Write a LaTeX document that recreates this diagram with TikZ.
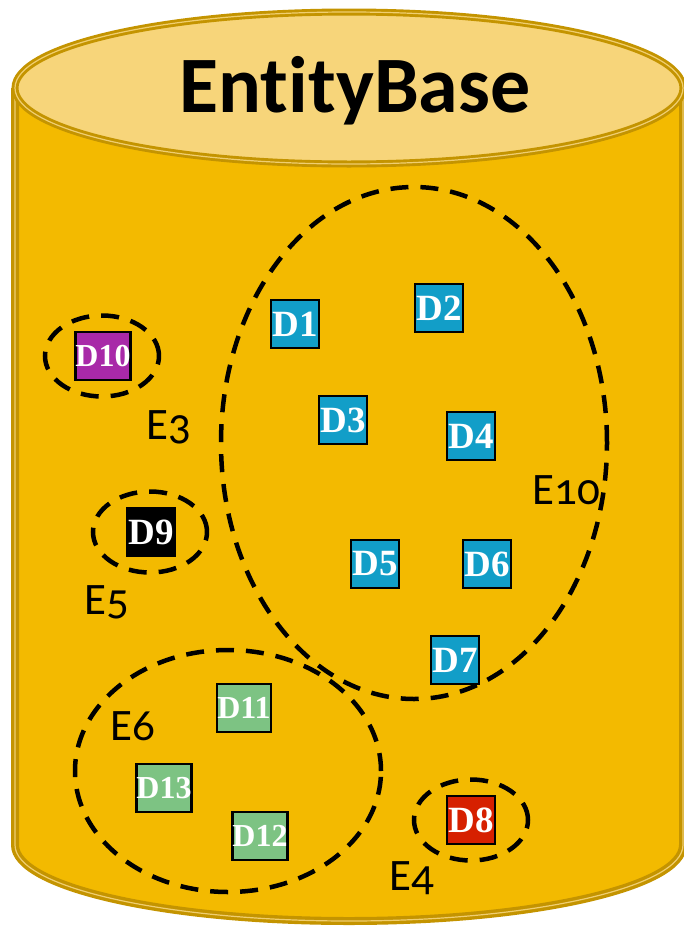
\documentclass[tikz,border=0pt]{standalone}
\usepackage{fontspec}
\usetikzlibrary{shapes.geometric}
\usetikzlibrary{positioning}
\newfontfamily\titlefont[Ligatures=NoCommon]{Carlito}
\newfontfamily\entfont[Numbers=OldStyle]{Carlito}
\newfontfamily\docfont{Liberation Serif}
\definecolor{rimgold}{RGB}{196,148,0}
\definecolor{rimlight}{RGB}{240,206,112}
\definecolor{bodygold}{RGB}{243,186,0}
\definecolor{topgold}{RGB}{247,213,122}
\definecolor{dblue}{RGB}{18,158,200}
\definecolor{dpurple}{RGB}{168,41,168}
\definecolor{dgreen}{RGB}{125,195,131}
\definecolor{dred}{RGB}{214,32,0}
\tikzstyle{doc} = [rectangle, minimum width=48pt, minimum height=48pt, inner sep=0pt, draw=black, line width=2.2pt, text=white, font=\docfont\bfseries\fontsize{37}{37}\selectfont]
\tikzstyle{docsmall} = [doc, font=\docfont\bfseries\fontsize{32}{32}\selectfont]
\tikzstyle{entity} = [ellipse, draw=black, line width=4.5pt, dash pattern=on 18pt off 12pt, inner sep=0pt]
\tikzstyle{elabel} = [inner sep=0pt, font=\entfont\fontsize{45}{45}\selectfont]
\begin{document}
\begin{tikzpicture}[x=1pt, y=-1pt]
        \useasboundingbox (0,0) rectangle (684,929);
        %cylinder
        \draw [rimgold, line width=8pt, fill=bodygold] (15,88) -- (15,845) arc [start angle=180, end angle=0, x radius=334, y radius=76] -- (683,88);
        \draw [rimlight, line width=1.2pt] (15,88) -- (15,845) arc [start angle=180, end angle=0, x radius=334, y radius=76] -- (683,88);
        \draw [rimgold, line width=7pt, fill=topgold] (349,88) ellipse [x radius=334, y radius=76];
        \draw [rimlight, line width=1.2pt] (349,88) ellipse [x radius=334, y radius=76];
        \node (title) [anchor=base, font=\titlefont\bfseries\fontsize{80}{80}\selectfont] at (355,112) {EntityBase};
        %entities
        \node (e10) [entity, minimum width=386pt, minimum height=512pt] at (414,443) {};
        \node (e3) [entity, minimum width=114pt, minimum height=81pt] at (102,356) {};
        \node (e5) [entity, minimum width=114pt, minimum height=81pt] at (150,532) {};
        \node (e6) [entity, minimum width=306pt, minimum height=242pt] at (228,771) {};
        \node (e4) [entity, minimum width=114pt, minimum height=81pt] at (471,820) {};
        \node (E10) [elabel, right of=e10, xshift=124pt, yshift=-47pt] {E10};
        \node (E3) [elabel, below of=e3, xshift=67pt, yshift=-43pt] {E3};
        \node (E5) [elabel, below of=e5, xshift=-43pt, yshift=-42pt] {E5};
        \node (E6) [elabel, left of=e6, xshift=-67pt, yshift=45pt] {E6};
        \node (E4) [elabel, below of=e4, xshift=-59pt, yshift=-30pt] {E4};
        %documents
        \node (D1) [doc, fill=dblue] at (295,324) {D1};
        \node (D2) [doc, fill=dblue] at (439,308) {D2};
        \node (D3) [doc, fill=dblue] at (343,420) {D3};
        \node (D4) [doc, fill=dblue] at (471,436) {D4};
        \node (D5) [doc, fill=dblue] at (375,564) {D5};
        \node (D6) [doc, fill=dblue] at (487,564) {D6};
        \node (D7) [doc, fill=dblue] at (455,660) {D7};
        \node (D8) [doc, fill=dred] at (471,820) {D8};
        \node (D9) [doc, fill=black] at (151,532) {D9};
        \node (D10) [docsmall, fill=dpurple] at (103,356) {D10};
        \node (D11) [docsmall, fill=dgreen] at (244,708) {D11};
        \node (D12) [docsmall, fill=dgreen] at (260,836) {D12};
        \node (D13) [docsmall, fill=dgreen] at (164,788) {D13};
    \end{tikzpicture}
\end{document}
